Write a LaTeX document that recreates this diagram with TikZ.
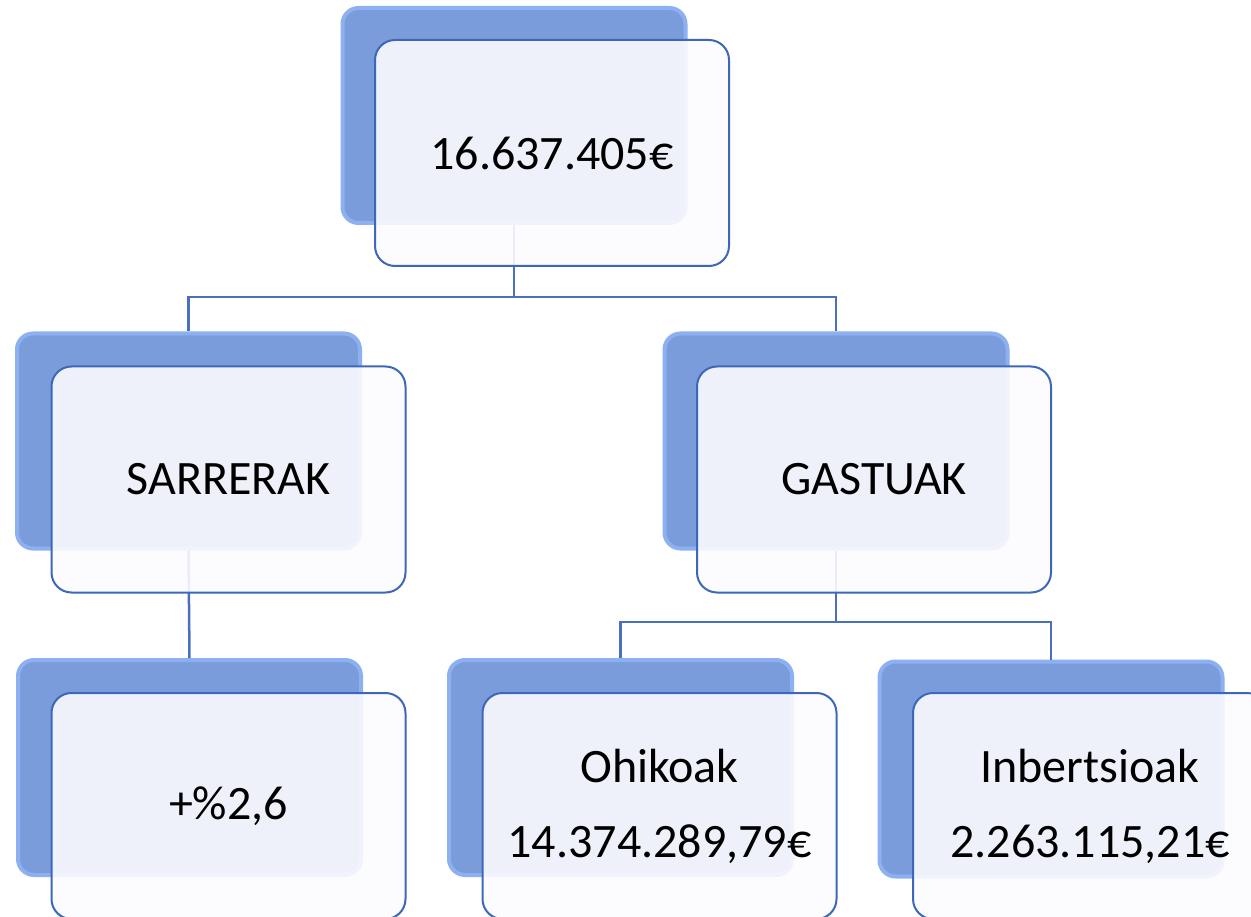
\documentclass[tikz,border=0pt]{standalone}
\usepackage{fontspec}
\setmainfont{Carlito}
\definecolor{backc}{HTML}{7B9CDA}
\definecolor{rimc}{HTML}{8DB0F2}
\definecolor{frontfill}{HTML}{FCFBFE}
\definecolor{frontline}{HTML}{3D68BA}
\definecolor{linkc}{HTML}{4A6FBE}
\tikzset{
  backbox/.style={rectangle, rounded corners=16pt, minimum width=343pt, minimum height=215pt,
    inner sep=0pt, fill=backc, draw=rimc, line width=4pt},
  frontbox/.style={rectangle, rounded corners=20pt, minimum width=354pt, minimum height=226pt,
    inner sep=0pt, fill=frontfill, fill opacity=0.9, text opacity=1, draw=frontline,
    line width=2pt, font=\fontsize{48}{75}\selectfont, align=center},
  link/.style={draw=linkc, line width=2.5pt}
}
\begin{document}
\begin{tikzpicture}[x=1pt,y=-1pt]
\useasboundingbox (0,0) rectangle (1251,917);
\clip (0,0) rectangle (1251,917);
\fill[white] (0,0) rectangle (1251,917);
% back boxes
\node[backbox] (b0) at (514,115.5) {};
\node[backbox] (b1) at (188.5,441) {};
\node[backbox] (b2) at (836,441) {};
\node[backbox] (b3) at (189.5,767.5) {};
\node[backbox] (b4) at (620.5,767.5) {};
\node[backbox] (b5) at (1051,769) {};
% junctions
\coordinate (j0) at (514,297);
\coordinate (j2) at (836,622);
% connectors
\draw[link] (b0.south) -- (j0) -| (b1.north);
\draw[link] (j0) -| (b2.north);
\draw[link] (b1.south) -- (b3.north);
\draw[link] (b2.south) -- (j2) -| (b4.north);
\draw[link] (j2) -| (b5.north);
% front boxes
\node[frontbox] (f0) at (552,153) {16.637.405€};
\node[frontbox] (f1) at (228.5,479.5) {SARRERAK};
\node[frontbox] (f2) at (874,479.5) {GASTUAK};
\node[frontbox] (f3) at (228.5,806) {+\%2,6};
\node[frontbox] (f4) at (659.5,806) {Ohikoak\\14.374.289,79€};
\node[frontbox] (f5) at (1090,806) {Inbertsioak\\2.263.115,21€};
\end{tikzpicture}
\end{document}
